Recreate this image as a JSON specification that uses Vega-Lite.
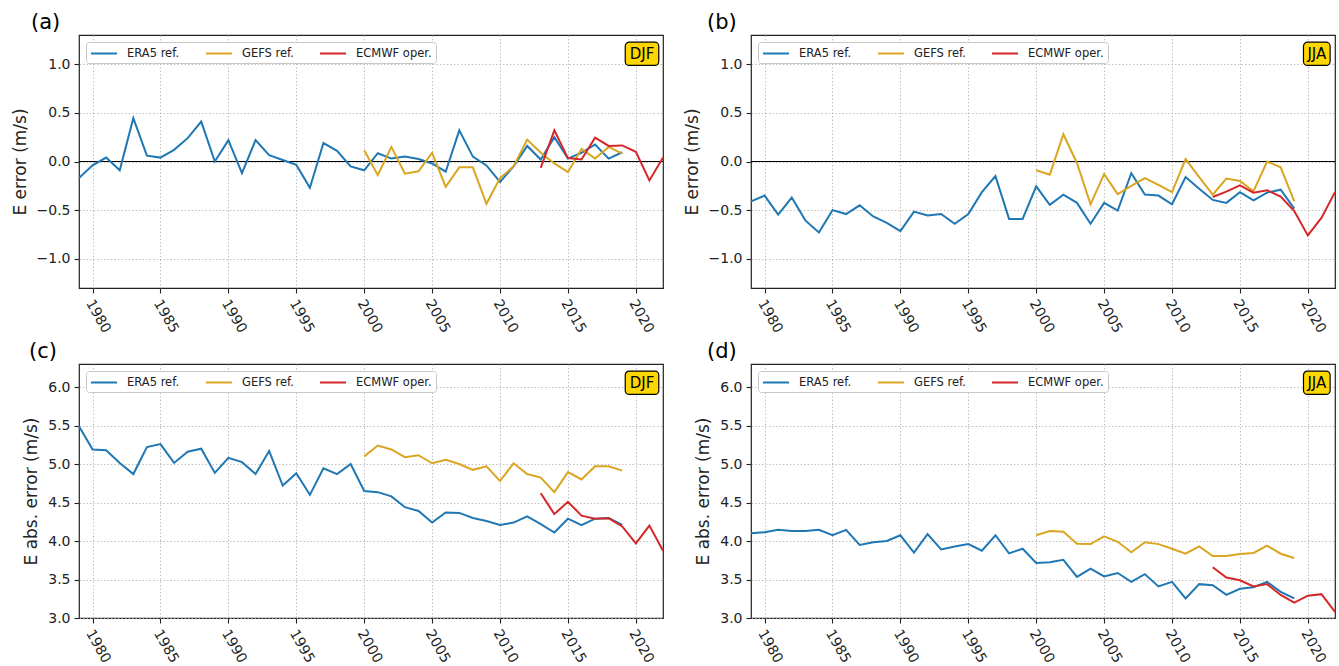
{
  "$schema": "https://vega.github.io/schema/vega-lite/v6.json",
  "padding": {"left": 10, "top": 11, "right": 0, "bottom": 0},
  "background": "white",
  "datasets": {
    "a": [
      {"s":"ERA5 ref.","x":1979,"v":-0.17},{"s":"ERA5 ref.","x":1980,"v":-0.04},{"s":"ERA5 ref.","x":1981,"v":0.04},{"s":"ERA5 ref.","x":1982,"v":-0.09},{"s":"ERA5 ref.","x":1983,"v":0.445},{"s":"ERA5 ref.","x":1984,"v":0.06},{"s":"ERA5 ref.","x":1985,"v":0.04},{"s":"ERA5 ref.","x":1986,"v":0.12},{"s":"ERA5 ref.","x":1987,"v":0.24},{"s":"ERA5 ref.","x":1988,"v":0.41},{"s":"ERA5 ref.","x":1989,"v":0.0},{"s":"ERA5 ref.","x":1990,"v":0.22},{"s":"ERA5 ref.","x":1991,"v":-0.12},{"s":"ERA5 ref.","x":1992,"v":0.22},{"s":"ERA5 ref.","x":1993,"v":0.065},{"s":"ERA5 ref.","x":1994,"v":0.015},{"s":"ERA5 ref.","x":1995,"v":-0.035},{"s":"ERA5 ref.","x":1996,"v":-0.27},{"s":"ERA5 ref.","x":1997,"v":0.19},{"s":"ERA5 ref.","x":1998,"v":0.11},{"s":"ERA5 ref.","x":1999,"v":-0.05},{"s":"ERA5 ref.","x":2000,"v":-0.09},{"s":"ERA5 ref.","x":2001,"v":0.085},{"s":"ERA5 ref.","x":2002,"v":0.03},{"s":"ERA5 ref.","x":2003,"v":0.05},{"s":"ERA5 ref.","x":2004,"v":0.025},{"s":"ERA5 ref.","x":2005,"v":-0.02},{"s":"ERA5 ref.","x":2006,"v":-0.105},{"s":"ERA5 ref.","x":2007,"v":0.32},{"s":"ERA5 ref.","x":2008,"v":0.05},{"s":"ERA5 ref.","x":2009,"v":-0.04},{"s":"ERA5 ref.","x":2010,"v":-0.21},{"s":"ERA5 ref.","x":2011,"v":-0.05},{"s":"ERA5 ref.","x":2012,"v":0.16},{"s":"ERA5 ref.","x":2013,"v":0.02},{"s":"ERA5 ref.","x":2014,"v":0.25},{"s":"ERA5 ref.","x":2015,"v":0.03},{"s":"ERA5 ref.","x":2016,"v":0.09},{"s":"ERA5 ref.","x":2017,"v":0.175},{"s":"ERA5 ref.","x":2018,"v":0.03},{"s":"ERA5 ref.","x":2019,"v":0.095},
      {"s":"GEFS ref.","x":2000,"v":0.115},{"s":"GEFS ref.","x":2001,"v":-0.14},{"s":"GEFS ref.","x":2002,"v":0.15},{"s":"GEFS ref.","x":2003,"v":-0.125},{"s":"GEFS ref.","x":2004,"v":-0.1},{"s":"GEFS ref.","x":2005,"v":0.09},{"s":"GEFS ref.","x":2006,"v":-0.26},{"s":"GEFS ref.","x":2007,"v":-0.06},{"s":"GEFS ref.","x":2008,"v":-0.06},{"s":"GEFS ref.","x":2009,"v":-0.435},{"s":"GEFS ref.","x":2010,"v":-0.17},{"s":"GEFS ref.","x":2011,"v":-0.05},{"s":"GEFS ref.","x":2012,"v":0.225},{"s":"GEFS ref.","x":2013,"v":0.09},{"s":"GEFS ref.","x":2014,"v":-0.02},{"s":"GEFS ref.","x":2015,"v":-0.11},{"s":"GEFS ref.","x":2016,"v":0.13},{"s":"GEFS ref.","x":2017,"v":0.03},{"s":"GEFS ref.","x":2018,"v":0.15},{"s":"GEFS ref.","x":2019,"v":0.08},
      {"s":"ECMWF oper.","x":2013,"v":-0.065},{"s":"ECMWF oper.","x":2014,"v":0.32},{"s":"ECMWF oper.","x":2015,"v":0.035},{"s":"ECMWF oper.","x":2016,"v":0.02},{"s":"ECMWF oper.","x":2017,"v":0.245},{"s":"ECMWF oper.","x":2018,"v":0.16},{"s":"ECMWF oper.","x":2019,"v":0.165},{"s":"ECMWF oper.","x":2020,"v":0.1},{"s":"ECMWF oper.","x":2021,"v":-0.195},{"s":"ECMWF oper.","x":2022,"v":0.04}
    ],
    "b": [
      {"s":"ERA5 ref.","x":1979,"v":-0.41},{"s":"ERA5 ref.","x":1980,"v":-0.35},{"s":"ERA5 ref.","x":1981,"v":-0.545},{"s":"ERA5 ref.","x":1982,"v":-0.37},{"s":"ERA5 ref.","x":1983,"v":-0.605},{"s":"ERA5 ref.","x":1984,"v":-0.73},{"s":"ERA5 ref.","x":1985,"v":-0.5},{"s":"ERA5 ref.","x":1986,"v":-0.54},{"s":"ERA5 ref.","x":1987,"v":-0.45},{"s":"ERA5 ref.","x":1988,"v":-0.565},{"s":"ERA5 ref.","x":1989,"v":-0.63},{"s":"ERA5 ref.","x":1990,"v":-0.715},{"s":"ERA5 ref.","x":1991,"v":-0.515},{"s":"ERA5 ref.","x":1992,"v":-0.555},{"s":"ERA5 ref.","x":1993,"v":-0.54},{"s":"ERA5 ref.","x":1994,"v":-0.64},{"s":"ERA5 ref.","x":1995,"v":-0.54},{"s":"ERA5 ref.","x":1996,"v":-0.315},{"s":"ERA5 ref.","x":1997,"v":-0.15},{"s":"ERA5 ref.","x":1998,"v":-0.59},{"s":"ERA5 ref.","x":1999,"v":-0.59},{"s":"ERA5 ref.","x":2000,"v":-0.255},{"s":"ERA5 ref.","x":2001,"v":-0.445},{"s":"ERA5 ref.","x":2002,"v":-0.34},{"s":"ERA5 ref.","x":2003,"v":-0.425},{"s":"ERA5 ref.","x":2004,"v":-0.64},{"s":"ERA5 ref.","x":2005,"v":-0.425},{"s":"ERA5 ref.","x":2006,"v":-0.505},{"s":"ERA5 ref.","x":2007,"v":-0.12},{"s":"ERA5 ref.","x":2008,"v":-0.34},{"s":"ERA5 ref.","x":2009,"v":-0.35},{"s":"ERA5 ref.","x":2010,"v":-0.44},{"s":"ERA5 ref.","x":2011,"v":-0.16},{"s":"ERA5 ref.","x":2012,"v":-0.28},{"s":"ERA5 ref.","x":2013,"v":-0.395},{"s":"ERA5 ref.","x":2014,"v":-0.425},{"s":"ERA5 ref.","x":2015,"v":-0.315},{"s":"ERA5 ref.","x":2016,"v":-0.4},{"s":"ERA5 ref.","x":2017,"v":-0.32},{"s":"ERA5 ref.","x":2018,"v":-0.29},{"s":"ERA5 ref.","x":2019,"v":-0.485},
      {"s":"GEFS ref.","x":2000,"v":-0.09},{"s":"GEFS ref.","x":2001,"v":-0.135},{"s":"GEFS ref.","x":2002,"v":0.28},{"s":"GEFS ref.","x":2003,"v":-0.015},{"s":"GEFS ref.","x":2004,"v":-0.44},{"s":"GEFS ref.","x":2005,"v":-0.13},{"s":"GEFS ref.","x":2006,"v":-0.335},{"s":"GEFS ref.","x":2007,"v":-0.25},{"s":"GEFS ref.","x":2008,"v":-0.17},{"s":"GEFS ref.","x":2009,"v":-0.24},{"s":"GEFS ref.","x":2010,"v":-0.315},{"s":"GEFS ref.","x":2011,"v":0.025},{"s":"GEFS ref.","x":2012,"v":-0.16},{"s":"GEFS ref.","x":2013,"v":-0.34},{"s":"GEFS ref.","x":2014,"v":-0.175},{"s":"GEFS ref.","x":2015,"v":-0.2},{"s":"GEFS ref.","x":2016,"v":-0.305},{"s":"GEFS ref.","x":2017,"v":0.0},{"s":"GEFS ref.","x":2018,"v":-0.06},{"s":"GEFS ref.","x":2019,"v":-0.41},
      {"s":"ECMWF oper.","x":2013,"v":-0.365},{"s":"ECMWF oper.","x":2014,"v":-0.31},{"s":"ECMWF oper.","x":2015,"v":-0.245},{"s":"ECMWF oper.","x":2016,"v":-0.32},{"s":"ECMWF oper.","x":2017,"v":-0.295},{"s":"ECMWF oper.","x":2018,"v":-0.36},{"s":"ECMWF oper.","x":2019,"v":-0.51},{"s":"ECMWF oper.","x":2020,"v":-0.76},{"s":"ECMWF oper.","x":2021,"v":-0.58},{"s":"ECMWF oper.","x":2022,"v":-0.315}
    ],
    "c": [
      {"s":"ERA5 ref.","x":1979,"v":5.49},{"s":"ERA5 ref.","x":1980,"v":5.19},{"s":"ERA5 ref.","x":1981,"v":5.18},{"s":"ERA5 ref.","x":1982,"v":5.015},{"s":"ERA5 ref.","x":1983,"v":4.87},{"s":"ERA5 ref.","x":1984,"v":5.22},{"s":"ERA5 ref.","x":1985,"v":5.26},{"s":"ERA5 ref.","x":1986,"v":5.015},{"s":"ERA5 ref.","x":1987,"v":5.16},{"s":"ERA5 ref.","x":1988,"v":5.2},{"s":"ERA5 ref.","x":1989,"v":4.885},{"s":"ERA5 ref.","x":1990,"v":5.08},{"s":"ERA5 ref.","x":1991,"v":5.025},{"s":"ERA5 ref.","x":1992,"v":4.87},{"s":"ERA5 ref.","x":1993,"v":5.17},{"s":"ERA5 ref.","x":1994,"v":4.72},{"s":"ERA5 ref.","x":1995,"v":4.88},{"s":"ERA5 ref.","x":1996,"v":4.6},{"s":"ERA5 ref.","x":1997,"v":4.945},{"s":"ERA5 ref.","x":1998,"v":4.87},{"s":"ERA5 ref.","x":1999,"v":5.0},{"s":"ERA5 ref.","x":2000,"v":4.65},{"s":"ERA5 ref.","x":2001,"v":4.635},{"s":"ERA5 ref.","x":2002,"v":4.58},{"s":"ERA5 ref.","x":2003,"v":4.44},{"s":"ERA5 ref.","x":2004,"v":4.39},{"s":"ERA5 ref.","x":2005,"v":4.24},{"s":"ERA5 ref.","x":2006,"v":4.37},{"s":"ERA5 ref.","x":2007,"v":4.365},{"s":"ERA5 ref.","x":2008,"v":4.3},{"s":"ERA5 ref.","x":2009,"v":4.26},{"s":"ERA5 ref.","x":2010,"v":4.21},{"s":"ERA5 ref.","x":2011,"v":4.24},{"s":"ERA5 ref.","x":2012,"v":4.32},{"s":"ERA5 ref.","x":2013,"v":4.22},{"s":"ERA5 ref.","x":2014,"v":4.11},{"s":"ERA5 ref.","x":2015,"v":4.29},{"s":"ERA5 ref.","x":2016,"v":4.205},{"s":"ERA5 ref.","x":2017,"v":4.29},{"s":"ERA5 ref.","x":2018,"v":4.3},{"s":"ERA5 ref.","x":2019,"v":4.21},
      {"s":"GEFS ref.","x":2000,"v":5.1},{"s":"GEFS ref.","x":2001,"v":5.24},{"s":"GEFS ref.","x":2002,"v":5.19},{"s":"GEFS ref.","x":2003,"v":5.09},{"s":"GEFS ref.","x":2004,"v":5.115},{"s":"GEFS ref.","x":2005,"v":5.01},{"s":"GEFS ref.","x":2006,"v":5.055},{"s":"GEFS ref.","x":2007,"v":5.0},{"s":"GEFS ref.","x":2008,"v":4.925},{"s":"GEFS ref.","x":2009,"v":4.97},{"s":"GEFS ref.","x":2010,"v":4.78},{"s":"GEFS ref.","x":2011,"v":5.01},{"s":"GEFS ref.","x":2012,"v":4.87},{"s":"GEFS ref.","x":2013,"v":4.825},{"s":"GEFS ref.","x":2014,"v":4.635},{"s":"GEFS ref.","x":2015,"v":4.895},{"s":"GEFS ref.","x":2016,"v":4.8},{"s":"GEFS ref.","x":2017,"v":4.97},{"s":"GEFS ref.","x":2018,"v":4.97},{"s":"GEFS ref.","x":2019,"v":4.915},
      {"s":"ECMWF oper.","x":2013,"v":4.62},{"s":"ECMWF oper.","x":2014,"v":4.35},{"s":"ECMWF oper.","x":2015,"v":4.51},{"s":"ECMWF oper.","x":2016,"v":4.33},{"s":"ECMWF oper.","x":2017,"v":4.29},{"s":"ECMWF oper.","x":2018,"v":4.295},{"s":"ECMWF oper.","x":2019,"v":4.19},{"s":"ECMWF oper.","x":2020,"v":3.97},{"s":"ECMWF oper.","x":2021,"v":4.2},{"s":"ECMWF oper.","x":2022,"v":3.875}
    ],
    "d": [
      {"s":"ERA5 ref.","x":1979,"v":4.1},{"s":"ERA5 ref.","x":1980,"v":4.115},{"s":"ERA5 ref.","x":1981,"v":4.145},{"s":"ERA5 ref.","x":1982,"v":4.13},{"s":"ERA5 ref.","x":1983,"v":4.13},{"s":"ERA5 ref.","x":1984,"v":4.145},{"s":"ERA5 ref.","x":1985,"v":4.075},{"s":"ERA5 ref.","x":1986,"v":4.145},{"s":"ERA5 ref.","x":1987,"v":3.95},{"s":"ERA5 ref.","x":1988,"v":3.985},{"s":"ERA5 ref.","x":1989,"v":4.0},{"s":"ERA5 ref.","x":1990,"v":4.075},{"s":"ERA5 ref.","x":1991,"v":3.85},{"s":"ERA5 ref.","x":1992,"v":4.09},{"s":"ERA5 ref.","x":1993,"v":3.89},{"s":"ERA5 ref.","x":1994,"v":3.93},{"s":"ERA5 ref.","x":1995,"v":3.96},{"s":"ERA5 ref.","x":1996,"v":3.875},{"s":"ERA5 ref.","x":1997,"v":4.075},{"s":"ERA5 ref.","x":1998,"v":3.84},{"s":"ERA5 ref.","x":1999,"v":3.9},{"s":"ERA5 ref.","x":2000,"v":3.715},{"s":"ERA5 ref.","x":2001,"v":3.725},{"s":"ERA5 ref.","x":2002,"v":3.755},{"s":"ERA5 ref.","x":2003,"v":3.535},{"s":"ERA5 ref.","x":2004,"v":3.64},{"s":"ERA5 ref.","x":2005,"v":3.54},{"s":"ERA5 ref.","x":2006,"v":3.585},{"s":"ERA5 ref.","x":2007,"v":3.47},{"s":"ERA5 ref.","x":2008,"v":3.57},{"s":"ERA5 ref.","x":2009,"v":3.41},{"s":"ERA5 ref.","x":2010,"v":3.47},{"s":"ERA5 ref.","x":2011,"v":3.255},{"s":"ERA5 ref.","x":2012,"v":3.44},{"s":"ERA5 ref.","x":2013,"v":3.425},{"s":"ERA5 ref.","x":2014,"v":3.3},{"s":"ERA5 ref.","x":2015,"v":3.38},{"s":"ERA5 ref.","x":2016,"v":3.4},{"s":"ERA5 ref.","x":2017,"v":3.47},{"s":"ERA5 ref.","x":2018,"v":3.34},{"s":"ERA5 ref.","x":2019,"v":3.255},
      {"s":"GEFS ref.","x":2000,"v":4.075},{"s":"GEFS ref.","x":2001,"v":4.13},{"s":"GEFS ref.","x":2002,"v":4.12},{"s":"GEFS ref.","x":2003,"v":3.965},{"s":"GEFS ref.","x":2004,"v":3.96},{"s":"GEFS ref.","x":2005,"v":4.06},{"s":"GEFS ref.","x":2006,"v":3.99},{"s":"GEFS ref.","x":2007,"v":3.855},{"s":"GEFS ref.","x":2008,"v":3.985},{"s":"GEFS ref.","x":2009,"v":3.96},{"s":"GEFS ref.","x":2010,"v":3.9},{"s":"GEFS ref.","x":2011,"v":3.835},{"s":"GEFS ref.","x":2012,"v":3.93},{"s":"GEFS ref.","x":2013,"v":3.805},{"s":"GEFS ref.","x":2014,"v":3.805},{"s":"GEFS ref.","x":2015,"v":3.83},{"s":"GEFS ref.","x":2016,"v":3.845},{"s":"GEFS ref.","x":2017,"v":3.94},{"s":"GEFS ref.","x":2018,"v":3.835},{"s":"GEFS ref.","x":2019,"v":3.78},
      {"s":"ECMWF oper.","x":2013,"v":3.66},{"s":"ECMWF oper.","x":2014,"v":3.525},{"s":"ECMWF oper.","x":2015,"v":3.49},{"s":"ECMWF oper.","x":2016,"v":3.41},{"s":"ECMWF oper.","x":2017,"v":3.44},{"s":"ECMWF oper.","x":2018,"v":3.3},{"s":"ECMWF oper.","x":2019,"v":3.2},{"s":"ECMWF oper.","x":2020,"v":3.29},{"s":"ECMWF oper.","x":2021,"v":3.31},{"s":"ECMWF oper.","x":2022,"v":3.08}
    ]
  },
  "config": {
    "font": "DejaVu Sans",
    "view": {"stroke": "#222222", "strokeWidth": 1.2},
    "axis": {
      "grid": true, "gridColor": "#b0b0b0", "gridDash": [1.5, 2], "gridWidth": 0.8,
      "domain": false, "tickColor": "#222222", "tickSize": 5, "tickWidth": 1.1,
      "labelColor": "#222222", "labelFontSize": 14, "labelFont": "DejaVu Sans",
      "titleFontSize": 17, "titleFontWeight": "normal", "titleColor": "#222222", "titleFont": "DejaVu Sans"
    },
    "axisX": {"labelAngle": 60, "labelAlign": "center", "labelBaseline": "middle", "labelPadding": 23, "labelOffset": 5},
    "axisY": {"labelPadding": 4, "titlePadding": 7},
    "legend": {
      "orient": "top-left", "direction": "horizontal", "offset": 7, "padding": 4,
      "fillColor": "white", "strokeColor": "#c8c8c8", "cornerRadius": 3,
      "symbolType": "M-1,0H3", "symbolStrokeWidth": 2, "symbolSize": 169,
      "labelFontSize": 11.5, "labelFont": "DejaVu Sans", "labelColor": "#222222", "labelOffset": 22, "columnPadding": 22
    },
    "title": {"fontSize": 21, "fontWeight": "normal", "anchor": "start", "frame": "group", "offset": 2, "color": "black", "font": "DejaVu Sans"}
  },
  "columns": 2,
  "spacing": {"row": 76, "column": 88},
  "bounds": "flush",
  "resolve": {"scale": {"color": "independent", "x": "independent", "y": "independent"}},
  "concat": [
    {
      "title": {"text": "(a)", "dx": -48},
      "width": 584, "height": 253,
      "data": {"name": "a"},
      "layer": [
        {"mark": {"type": "rule", "color": "black", "strokeWidth": 1.2}, "encoding": {"y": {"datum": 0, "type": "quantitative", "scale": {"domain": [-1.3, 1.3], "nice": false, "zero": false}, "axis": {"title": "E error (m/s)", "values": [-1, -0.5, 0, 0.5, 1], "format": ".1f"}}}},
        {
          "mark": {"type": "line", "strokeWidth": 2},
          "encoding": {
            "x": {"field": "x", "type": "quantitative", "scale": {"domain": [1979, 2022], "nice": false, "zero": false}, "axis": {"values": [1980, 1985, 1990, 1995, 2000, 2005, 2010, 2015, 2020], "format": "d", "title": null}},
            "y": {"field": "v", "type": "quantitative"},
            "color": {"field": "s", "type": "nominal", "scale": {"domain": ["ERA5 ref.", "GEFS ref.", "ECMWF oper."], "range": ["#1f77b4", "#daa520", "#d62728"]}, "legend": {"title": null}}
          }
        },
        {"data": {"values": [{"season": "DJF"}]}, "mark": {"type": "rect", "fill": "#ffd700", "stroke": "black", "strokeWidth": 1.2, "cornerRadius": 4}, "encoding": {"x": {"datum": 2019.22, "type": "quantitative"}, "x2": {"datum": 2021.69}, "y": {"datum": 1.226, "type": "quantitative"}, "y2": {"datum": 0.987}}},
        {"data": {"values": [{"season": "DJF"}]}, "mark": {"type": "text", "fontSize": 15, "align": "center", "baseline": "middle", "color": "black"}, "encoding": {"x": {"datum": 2020.455, "type": "quantitative"}, "y": {"datum": 1.106, "type": "quantitative"}, "text": {"field": "season"}}}
      ]
    },
    {
      "title": {"text": "(b)", "dx": -44},
      "width": 584, "height": 253,
      "data": {"name": "b"},
      "layer": [
        {"mark": {"type": "rule", "color": "black", "strokeWidth": 1.2}, "encoding": {"y": {"datum": 0, "type": "quantitative", "scale": {"domain": [-1.3, 1.3], "nice": false, "zero": false}, "axis": {"title": "E error (m/s)", "values": [-1, -0.5, 0, 0.5, 1], "format": ".1f"}}}},
        {
          "mark": {"type": "line", "strokeWidth": 2},
          "encoding": {
            "x": {"field": "x", "type": "quantitative", "scale": {"domain": [1979, 2022], "nice": false, "zero": false}, "axis": {"values": [1980, 1985, 1990, 1995, 2000, 2005, 2010, 2015, 2020], "format": "d", "title": null}},
            "y": {"field": "v", "type": "quantitative"},
            "color": {"field": "s", "type": "nominal", "scale": {"domain": ["ERA5 ref.", "GEFS ref.", "ECMWF oper."], "range": ["#1f77b4", "#daa520", "#d62728"]}, "legend": {"title": null}}
          }
        },
        {"data": {"values": [{"season": "JJA"}]}, "mark": {"type": "rect", "fill": "#ffd700", "stroke": "black", "strokeWidth": 1.2, "cornerRadius": 4}, "encoding": {"x": {"datum": 2019.68, "type": "quantitative"}, "x2": {"datum": 2021.64}, "y": {"datum": 1.226, "type": "quantitative"}, "y2": {"datum": 0.987}}},
        {"data": {"values": [{"season": "JJA"}]}, "mark": {"type": "text", "fontSize": 15, "align": "center", "baseline": "middle", "color": "black"}, "encoding": {"x": {"datum": 2020.66, "type": "quantitative"}, "y": {"datum": 1.106, "type": "quantitative"}, "text": {"field": "season"}}}
      ]
    },
    {
      "title": {"text": "(c)", "dx": -50},
      "width": 584, "height": 254,
      "data": {"name": "c"},
      "layer": [
        {
          "mark": {"type": "line", "strokeWidth": 2},
          "encoding": {
            "x": {"field": "x", "type": "quantitative", "scale": {"domain": [1979, 2022], "nice": false, "zero": false}, "axis": {"values": [1980, 1985, 1990, 1995, 2000, 2005, 2010, 2015, 2020], "format": "d", "title": null}},
            "y": {"field": "v", "type": "quantitative", "scale": {"domain": [3.0, 6.3], "nice": false, "zero": false}, "axis": {"title": "E abs. error (m/s)", "values": [3, 3.5, 4, 4.5, 5, 5.5, 6], "format": ".1f"}},
            "color": {"field": "s", "type": "nominal", "scale": {"domain": ["ERA5 ref.", "GEFS ref.", "ECMWF oper."], "range": ["#1f77b4", "#daa520", "#d62728"]}, "legend": {"title": null}}
          }
        },
        {"data": {"values": [{"season": "DJF"}]}, "mark": {"type": "rect", "fill": "#ffd700", "stroke": "black", "strokeWidth": 1.2, "cornerRadius": 4}, "encoding": {"x": {"datum": 2019.22, "type": "quantitative"}, "x2": {"datum": 2021.69}, "y": {"datum": 6.208, "type": "quantitative"}, "y2": {"datum": 5.905}}},
        {"data": {"values": [{"season": "DJF"}]}, "mark": {"type": "text", "fontSize": 15, "align": "center", "baseline": "middle", "color": "black"}, "encoding": {"x": {"datum": 2020.455, "type": "quantitative"}, "y": {"datum": 6.057, "type": "quantitative"}, "text": {"field": "season"}}}
      ]
    },
    {
      "title": {"text": "(d)", "dx": -44},
      "width": 584, "height": 254,
      "data": {"name": "d"},
      "layer": [
        {
          "mark": {"type": "line", "strokeWidth": 2},
          "encoding": {
            "x": {"field": "x", "type": "quantitative", "scale": {"domain": [1979, 2022], "nice": false, "zero": false}, "axis": {"values": [1980, 1985, 1990, 1995, 2000, 2005, 2010, 2015, 2020], "format": "d", "title": null}},
            "y": {"field": "v", "type": "quantitative", "scale": {"domain": [3.0, 6.3], "nice": false, "zero": false}, "axis": {"title": "E abs. error (m/s)", "values": [3, 3.5, 4, 4.5, 5, 5.5, 6], "format": ".1f"}},
            "color": {"field": "s", "type": "nominal", "scale": {"domain": ["ERA5 ref.", "GEFS ref.", "ECMWF oper."], "range": ["#1f77b4", "#daa520", "#d62728"]}, "legend": {"title": null}}
          }
        },
        {"data": {"values": [{"season": "JJA"}]}, "mark": {"type": "rect", "fill": "#ffd700", "stroke": "black", "strokeWidth": 1.2, "cornerRadius": 4}, "encoding": {"x": {"datum": 2019.68, "type": "quantitative"}, "x2": {"datum": 2021.64}, "y": {"datum": 6.208, "type": "quantitative"}, "y2": {"datum": 5.905}}},
        {"data": {"values": [{"season": "JJA"}]}, "mark": {"type": "text", "fontSize": 15, "align": "center", "baseline": "middle", "color": "black"}, "encoding": {"x": {"datum": 2020.66, "type": "quantitative"}, "y": {"datum": 6.057, "type": "quantitative"}, "text": {"field": "season"}}}
      ]
    }
  ]
}
